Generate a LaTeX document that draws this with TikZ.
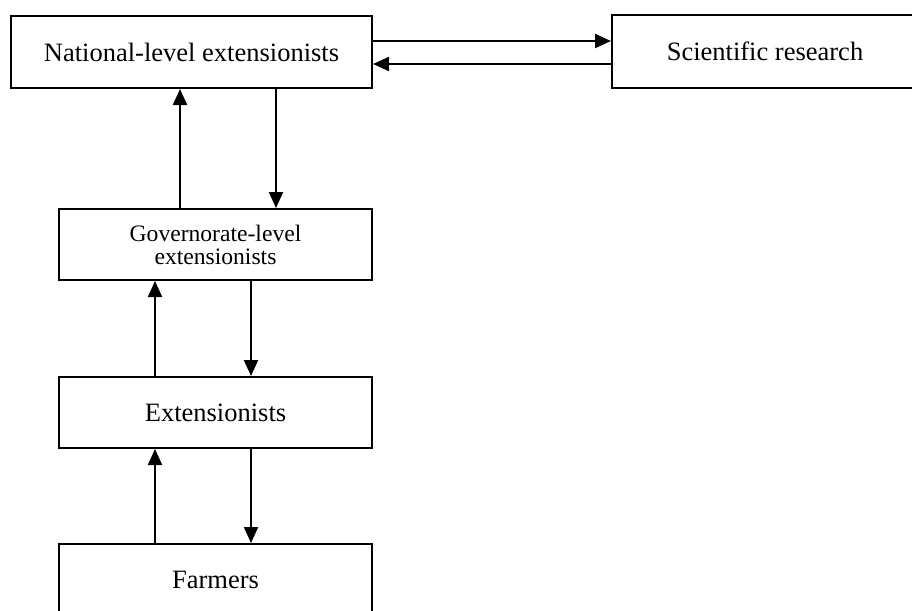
\documentclass[tikz,border=0pt]{standalone}
\usepackage{fontspec}
\setmainfont{Liberation Serif}
\usetikzlibrary{arrows.meta}
\begin{document}
\begin{tikzpicture}[x=1pt,y=-1pt,
  box/.style={draw, line width=2pt, inner sep=0pt, align=center,
    minimum height=72pt, font=\fontsize{26.5}{28}\selectfont},
  smalltext/.style={font=\fontsize{23.6}{23}\selectfont},
  link/.style={line width=2pt, -{Triangle[length=16pt,width=14pt]}}]
\useasboundingbox (0,0) rectangle (912,610);
\clip (0,0) rectangle (912,610);

% boxes
\node[box, minimum width=361pt] (nat) at (191.5,52) {National-level extensionists};
\node[box, minimum width=324pt] (sci) at (774,51.5) {Scientific research\hspace*{18pt}};
\node[box, smalltext, minimum width=313pt, minimum height=71pt] (gov) at (215.5,244.5) {Governorate-level\\extensionists};
\node[box, minimum width=313pt, minimum height=71pt] (ext) at (215.5,412.5) {Extensionists};
\node[box, minimum width=313pt] (farm) at (215.5,580) {Farmers};

% national level <-> research
\draw[link] ([yshift=11pt]nat.east) -- ([yshift=11pt]nat.east -| sci.west);
\draw[link] ([yshift=-12pt]nat.east -| sci.west) -- ([yshift=-12pt]nat.east);

% national <-> governorate
\draw[link] ([xshift=-35.5pt]gov.north) -- ([xshift=-35.5pt]gov.north |- nat.south);
\draw[link] ([xshift=60.5pt]gov.north |- nat.south) -- ([xshift=60.5pt]gov.north);

% governorate <-> extensionists
\draw[link] ([xshift=-60.5pt]ext.north) -- ([xshift=-60.5pt]ext.north |- gov.south);
\draw[link] ([xshift=35.5pt]ext.north |- gov.south) -- ([xshift=35.5pt]ext.north);

% extensionists <-> farmers
\draw[link] ([xshift=-60.5pt]farm.north) -- ([xshift=-60.5pt]farm.north |- ext.south);
\draw[link] ([xshift=35.5pt]farm.north |- ext.south) -- ([xshift=35.5pt]farm.north);
\end{tikzpicture}
\end{document}
